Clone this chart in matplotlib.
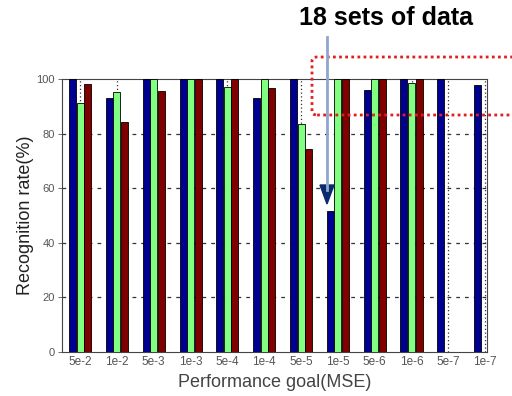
import matplotlib
matplotlib.use("Agg")
import matplotlib.pyplot as plt
import numpy as np
from matplotlib.patches import FancyBboxPatch, Polygon
from matplotlib.lines import Line2D

plt.rcParams['font.family'] = ['Liberation Sans', 'DejaVu Sans']

categories = ["5e-2", "1e-2", "5e-3", "1e-3", "5e-4", "1e-4",
              "5e-5", "1e-5", "5e-6", "1e-6", "5e-7", "1e-7"]
series_blue = [100, 93.2, 100, 100, 100, 93.2, 100, 51.8, 96.0, 100, 100, 97.8]
series_green = [91.2, 95.3, 100, 100, 97.2, 100, 83.5, 100, 100, 98.6, 0, 0]
series_red = [98.0, 84.4, 95.6, 100, 100, 96.6, 74.4, 100, 100, 100, 0, 0]
y_ticks = [0, 20, 40, 60, 80, 100]

colors = ["#000090", "#80ff80", "#800000"]

fig = plt.figure(figsize=(5.12, 3.96), dpi=100)
ax = fig.add_axes([62/512, 1-352/396, (487-62)/512, (352-79)/396])

x = np.arange(len(categories))
off = 0.204
w = 0.19
for i, (vals, c) in enumerate(zip([series_blue, series_green, series_red], colors)):
    ax.bar(x + (i-1)*off, vals, width=w, color=c, edgecolor="black", linewidth=0.6, zorder=3)

ax.set_xlim(-0.49, 11.05)
ax.set_ylim(0, 100)
ax.set_xticks(x)
ax.set_xticklabels(categories, fontsize=8.5, color="#555555")
ax.set_yticks(y_ticks)
ax.set_yticklabels([str(t) for t in y_ticks], fontsize=8, color="#555555")
ax.tick_params(axis='both', length=3, color="#555555", width=0.6, pad=2)
ax.tick_params(axis='x', length=0, pad=3)
for yv in y_ticks[1:-1]:
    ax.axhline(yv, color="#333333", linestyle=(0, (3, 4)), linewidth=0.9, zorder=1)
for xv in x:
    ax.axvline(xv, color="#333333", linestyle=(0, (1, 2)), linewidth=0.9, zorder=1)
for s in ax.spines.values():
    s.set_color("#444444")
    s.set_linewidth(0.8)

ax.set_xlabel("Performance goal(MSE)", fontsize=13, color="#444444", labelpad=4)
ax.set_ylabel("Recognition rate(%)", fontsize=13, color="#222222", labelpad=2)

# annotation
fig.text(386/512, 1-18/396, "18 sets of data", fontsize=18, fontweight="bold",
         ha="center", va="center", color="black")
ax_x = 327/512
fig.add_artist(Line2D([ax_x, ax_x], [1-37/396, 1-190/396], transform=fig.transFigure,
                      color="#8ea6cf", linewidth=2))
fig.add_artist(Polygon([[320/512, 1-185/396], [334/512, 1-185/396], [327/512, 1-204/396]],
                       closed=True, transform=fig.transFigure, color="#0a2a6e"))
fig.add_artist(FancyBboxPatch((312/512, 1-115/396), 230/512, 58/396,
                              boxstyle="round,pad=0,rounding_size=0.01",
                              transform=fig.transFigure, fill=False,
                              edgecolor="#e02020", linestyle=(0, (1, 1.2)), linewidth=2))

fig.savefig("out.png", dpi=100)
